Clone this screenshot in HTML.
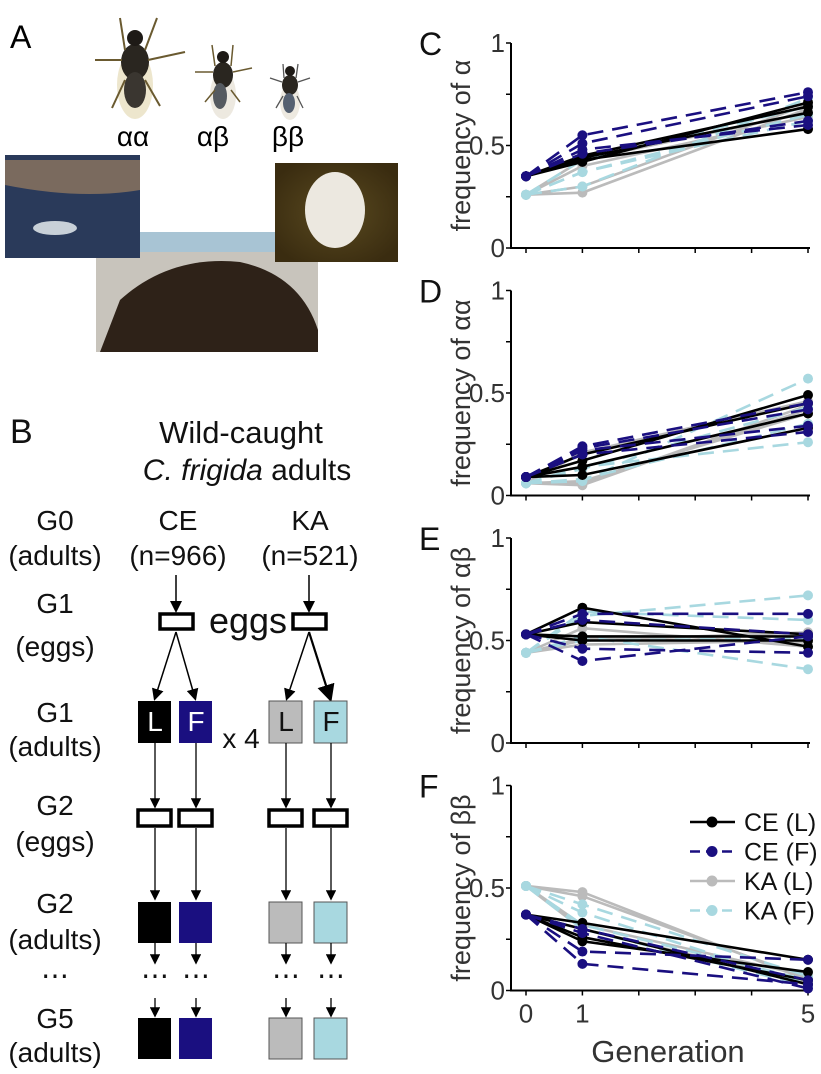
<!DOCTYPE html>
<html><head><meta charset="utf-8"><style>
body{margin:0;background:#fff;}
svg{display:block;font-family:"Liberation Sans",sans-serif;}
</style></head><body>
<svg id="fig" width="821" height="1074" viewBox="0 0 821 1074" xmlns="http://www.w3.org/2000/svg">
<defs>
<radialGradient id="gEgg" cx="0.5" cy="0.5" r="0.6"><stop offset="0" stop-color="#5a4a20"/><stop offset="1" stop-color="#3a2c10"/></radialGradient>
<marker id="ah" markerWidth="8" markerHeight="8" refX="6" refY="4" orient="auto"><path d="M0,0 L8,4 L0,8 z" fill="#000"/></marker>
</defs>
<!-- Panel A -->
<g>
<text x="10" y="48" font-size="32">A</text>
<g>
<ellipse cx="135" cy="85" rx="18" ry="34" fill="#e8e0c0" opacity="0.8"/>
<ellipse cx="135" cy="62" rx="14" ry="18" fill="#2a2620"/>
<ellipse cx="135" cy="90" rx="11" ry="18" fill="#3a3630"/>
<circle cx="135" cy="38" r="8" fill="#1e1a16"/>
<path d="M122,60 L95,60 M148,60 L185,52 M125,50 L120,18 M145,50 L157,18 M125,80 L112,108 M145,80 L160,106" stroke="#6a5a30" stroke-width="2"/>
</g>
<g>
<ellipse cx="223" cy="95" rx="13" ry="24" fill="#e8e4d8" opacity="0.8"/>
<ellipse cx="223" cy="75" rx="10" ry="13" fill="#2a2620"/>
<ellipse cx="220" cy="96" rx="7" ry="13" fill="#555a60"/>
<circle cx="223" cy="57" r="6" fill="#1e1a16"/>
<path d="M213,72 L195,72 M233,72 L252,68 M215,66 L212,45 M231,66 L233,45 M215,90 L205,102 M231,90 L240,102" stroke="#6a5a30" stroke-width="1.5"/>
</g>
<g>
<ellipse cx="290" cy="102" rx="10" ry="18" fill="#e8e4d8" opacity="0.8"/>
<ellipse cx="290" cy="85" rx="8" ry="10" fill="#2a2620"/>
<ellipse cx="289" cy="103" rx="6" ry="10" fill="#556070"/>
<circle cx="290" cy="71" r="5" fill="#1e1a16"/>
<path d="M282,82 L270,78 M298,82 L310,78 M284,78 L283,64 M296,78 L298,64 M283,96 L276,108 M297,96 L303,108" stroke="#555" stroke-width="1.3"/>
</g>
<text x="133" y="146" font-size="28" text-anchor="middle">αα</text>
<text x="213" y="146" font-size="28" text-anchor="middle">αβ</text>
<text x="288" y="146" font-size="28" text-anchor="middle">ββ</text>
<g>
<rect x="96" y="232" width="222" height="120" fill="#c8c4bc"/>
<rect x="96" y="232" width="222" height="20" fill="#a8c4d4"/>
<path d="M100,352 L120,300 Q170,255 240,262 Q300,275 318,330 L318,352 Z" fill="#2e2218"/>
</g>
<g>
<rect x="5" y="155" width="135" height="103" fill="#2a3a5a"/>
<path d="M5,160 L140,160 L140,190 Q80,200 5,185 Z" fill="#b08a60" opacity="0.6"/>
<ellipse cx="55" cy="228" rx="22" ry="7" fill="#c8d0d8"/>
</g>
<g>
<rect x="275" y="163" width="123" height="99" fill="url(#gEgg)"/>
<ellipse cx="335" cy="210" rx="30" ry="38" fill="#ece8e0"/>
</g>
</g>
<!-- Panel B -->
<g font-size="28" fill="#111">
<text x="10" y="443" font-size="34">B</text>
<text x="241" y="443" text-anchor="middle" font-size="31">Wild-caught</text>
<text x="247" y="480" text-anchor="middle" font-size="30"><tspan font-style="italic">C. frigida</tspan> adults</text>
<g text-anchor="middle">
<text x="55" y="530">G0</text><text x="55" y="565">(adults)</text>
<text x="55" y="613">G1</text><text x="55" y="656">(eggs)</text>
<text x="55" y="722">G1</text><text x="55" y="756">(adults)</text>
<text x="55" y="815">G2</text><text x="55" y="851">(eggs)</text>
<text x="55" y="913">G2</text><text x="55" y="949">(adults)</text>
<text x="55" y="1028">G5</text><text x="55" y="1062">(adults)</text>
</g>
<text x="55" y="985" text-anchor="middle">⋯</text>
<text x="178" y="530" text-anchor="middle">CE</text>
<text x="178" y="565" text-anchor="middle">(n=966)</text>
<text x="310" y="530" text-anchor="middle">KA</text>
<text x="310" y="565" text-anchor="middle">(n=521)</text>
<g stroke="#000" stroke-width="1.5" fill="none">
<line x1="176" y1="575" x2="176" y2="610" marker-end="url(#ah)"/>
<line x1="309" y1="575" x2="309" y2="610" marker-end="url(#ah)"/>
<line x1="176" y1="632" x2="155" y2="698" marker-end="url(#ah)"/>
<line x1="176" y1="632" x2="195" y2="698" marker-end="url(#ah)"/>
<line x1="309" y1="632" x2="287" y2="698" marker-end="url(#ah)"/>
<line x1="309" y1="632" x2="330" y2="698" stroke-width="2.2" marker-end="url(#ah)"/>
</g>
<rect x="160" y="614" width="33" height="15" fill="#fff" stroke="#000" stroke-width="3.5"/>
<rect x="293" y="614" width="33" height="15" fill="#fff" stroke="#000" stroke-width="3.5"/>
<text x="248" y="633" text-anchor="middle" font-size="36">eggs</text>
<text x="241" y="748" text-anchor="middle">x 4</text>
<g id="bcols"></g>
</g>
<g id="charts"></g>
</svg>
<script>
const NS="http://www.w3.org/2000/svg";
function mk(tag,attrs,parent){const e=document.createElementNS(NS,tag);for(const k in attrs)e.setAttribute(k,attrs[k]);parent.appendChild(e);return e;}
const bcols=document.getElementById('bcols');
const colX=[138,179,269,314];
const colFill=["#000","#1a0f80","#bbbbbb","#a8d8e0"];
const colLetter=["L","F","L","F"];
colX.forEach((x,i)=>{
  const g=mk('g',{},bcols);
  
  
  const stroke=i<2?"none":"#555";
  const cx=x+17;
  mk('rect',{x:x,y:701,width:33,height:42,fill:colFill[i],stroke:stroke},g);
  const t=mk('text',{x:cx,y:731,'text-anchor':'middle','font-size':28,fill:i<2?"#fff":"#111"},g);t.textContent=colLetter[i];
  mk('line',{x1:cx,y1:743,x2:cx,y2:806,stroke:"#000","stroke-width":1.3,"marker-end":"url(#ah)"},g);
  mk('rect',{x:x,y:810,width:33,height:16,fill:"#fff",stroke:"#000","stroke-width":3.5},g);
  mk('line',{x1:cx,y1:828,x2:cx,y2:898,stroke:"#000","stroke-width":1.3,"marker-end":"url(#ah)"},g);
  mk('rect',{x:x,y:902,width:33,height:41,fill:colFill[i],stroke:stroke},g);
  mk('line',{x1:cx,y1:943,x2:cx,y2:962,stroke:"#000","stroke-width":1.3,"marker-end":"url(#ah)"},g);
  const d=mk('text',{x:cx,y:985,'text-anchor':'middle','font-size':28},g);d.textContent="⋯";
  mk('line',{x1:cx,y1:998,x2:cx,y2:1015,stroke:"#000","stroke-width":1.3,"marker-end":"url(#ah)"},g);
  mk('rect',{x:x,y:1018,width:33,height:41,fill:colFill[i],stroke:stroke},g);
});

// ---- Charts data ----
const generations=[0,1,5];
const yTicks=[0,0.5,1];
const groups=["CE (L)","CE (F)","KA (L)","KA (F)"];
const panelLetters=["C","D","E","F"];
const panelTitles=["frequency of α","frequency of αα","frequency of αβ","frequency of ββ"];
const startC=[0.35,0.26], startD=[0.09,0.06], startE=[0.53,0.44], startF=[0.37,0.51];
const C_g1=[[0.42,0.43,0.44,0.45],[0.55,0.51,0.48,0.46],[0.27,0.30,0.40,0.43],[0.30,0.37,0.37,0.43]];
const C_g5=[[0.71,0.58,0.66,0.69],[0.76,0.74,0.60,0.62],[0.68,0.70,0.64,0.66],[0.73,0.62,0.65,0.69]];
const D_g1=[[0.17,0.14,0.10,0.20],[0.24,0.22,0.20,0.23],[0.05,0.06,0.07,0.21],[0.07,0.13,0.08,0.14]];
const D_g5=[[0.49,0.40,0.33,0.45],[0.45,0.34,0.31,0.42],[0.44,0.42,0.40,0.46],[0.57,0.43,0.35,0.26]];
const E_g1=[[0.66,0.59,0.50,0.52],[0.63,0.60,0.46,0.40],[0.56,0.50,0.48,0.51],[0.62,0.64,0.52,0.50]];
const E_g5=[[0.47,0.53,0.50,0.52],[0.63,0.53,0.44,0.52],[0.47,0.54,0.50,0.49],[0.72,0.60,0.36,0.51]];
const F_g1=[[0.33,0.24,0.26,0.30],[0.19,0.13,0.28,0.30],[0.48,0.46,0.30,0.32],[0.42,0.38,0.30,0.32]];
const F_g5=[[0.15,0.09,0.05,0.03],[0.15,0.03,0.01,0.05],[0.05,0.06,0.04,0.07],[0.07,0.03,0.02,0.05]];

const panels=[[startC,C_g1,C_g5],[startD,D_g1,D_g5],[startE,E_g1,E_g5],[startF,F_g1,F_g5]];
const colors=["#000000","#1a0f80","#bbbbbb","#a8d8e0"];
const dashed=[false,true,false,true];
const drawOrder=[2,3,0,1];

const axLeft=511, axRight=810;
function xs(g){return 526+g*56.4;}
const charts=document.getElementById('charts');
panels.forEach((p,pi)=>{
  const top=43+pi*247.5, bottom=top+205;
  const ys=v=>bottom-v*(bottom-top);
  const g=mk('g',{},charts);
  
  
  const L=mk('text',{x:419,y:top+12,'font-size':32,fill:'#111'},g);L.textContent=panelLetters[pi];
  
  
  const ax=mk('path',{d:`M${axLeft},${top} L${axLeft},${bottom} L${axRight},${bottom}`,stroke:'#000','stroke-width':2,fill:'none'},g);
  
  
  for(let k=0;k<=4;k++){mk('line',{x1:axLeft-5,x2:axLeft,y1:ys(k/4),y2:ys(k/4),stroke:'#000','stroke-width':1.5},g);}
  for(let k=0;k<=5;k++){mk('line',{x1:xs(k),x2:xs(k),y1:bottom,y2:bottom+5,stroke:'#000','stroke-width':1.5},g);}
  yTicks.forEach(v=>{const t=mk('text',{x:axLeft-6,y:ys(v)+9,'text-anchor':'end','font-size':26,fill:'#333'},g);t.textContent=String(v);
    
    });
  const yt=mk('text',{x:0,y:0,'text-anchor':'middle','font-size':27,fill:'#333',transform:`translate(470,${(top+bottom)/2}) rotate(-90)`},g);
  yt.textContent=panelTitles[pi];
  
  
  const [start,g1,g5]=p;
  drawOrder.forEach(gi=>{
    for(let r=0;r<4;r++){
      const vals=[start[gi<2?0:1],g1[gi][r],g5[gi][r]];
      const pts=vals.map((v,k)=>xs(generations[k])+','+ys(v)).join(' ');
      const pl=mk('polyline',{points:pts,fill:'none',stroke:colors[gi],'stroke-width':2.6},g);
      if(dashed[gi])pl.setAttribute('stroke-dasharray','16 9');
      
      
      vals.forEach((v,k)=>{const c=mk('circle',{cx:xs(generations[k]),cy:ys(v),r:5,fill:colors[gi]},g);
        
        });
    }
  });
  if(pi===3){
    generations.forEach(gv=>{const t=mk('text',{x:xs(gv),y:bottom+32,'text-anchor':'middle','font-size':26,fill:'#333'},g);t.textContent=String(gv);
      
      });
    const xt=mk('text',{x:668,y:1062,'text-anchor':'middle','font-size':31,fill:'#333'},g);xt.textContent="Generation";
    
    
    groups.forEach((name,gi)=>{
      const ly=822+gi*29.5;
      const lg=mk('g',{},g);
      
      
      const ln=mk('line',{x1:690,x2:735,y1:ly,y2:ly,stroke:colors[gi],'stroke-width':2.6},lg);
      if(dashed[gi])ln.setAttribute('stroke-dasharray','10 6');
      mk('circle',{cx:712,cy:ly,r:5.5,fill:colors[gi]},lg);
      const t=mk('text',{x:744,y:ly+9,'font-size':25,fill:'#111'},lg);t.textContent=name;
    });
  }
});
</script>
</body></html>
